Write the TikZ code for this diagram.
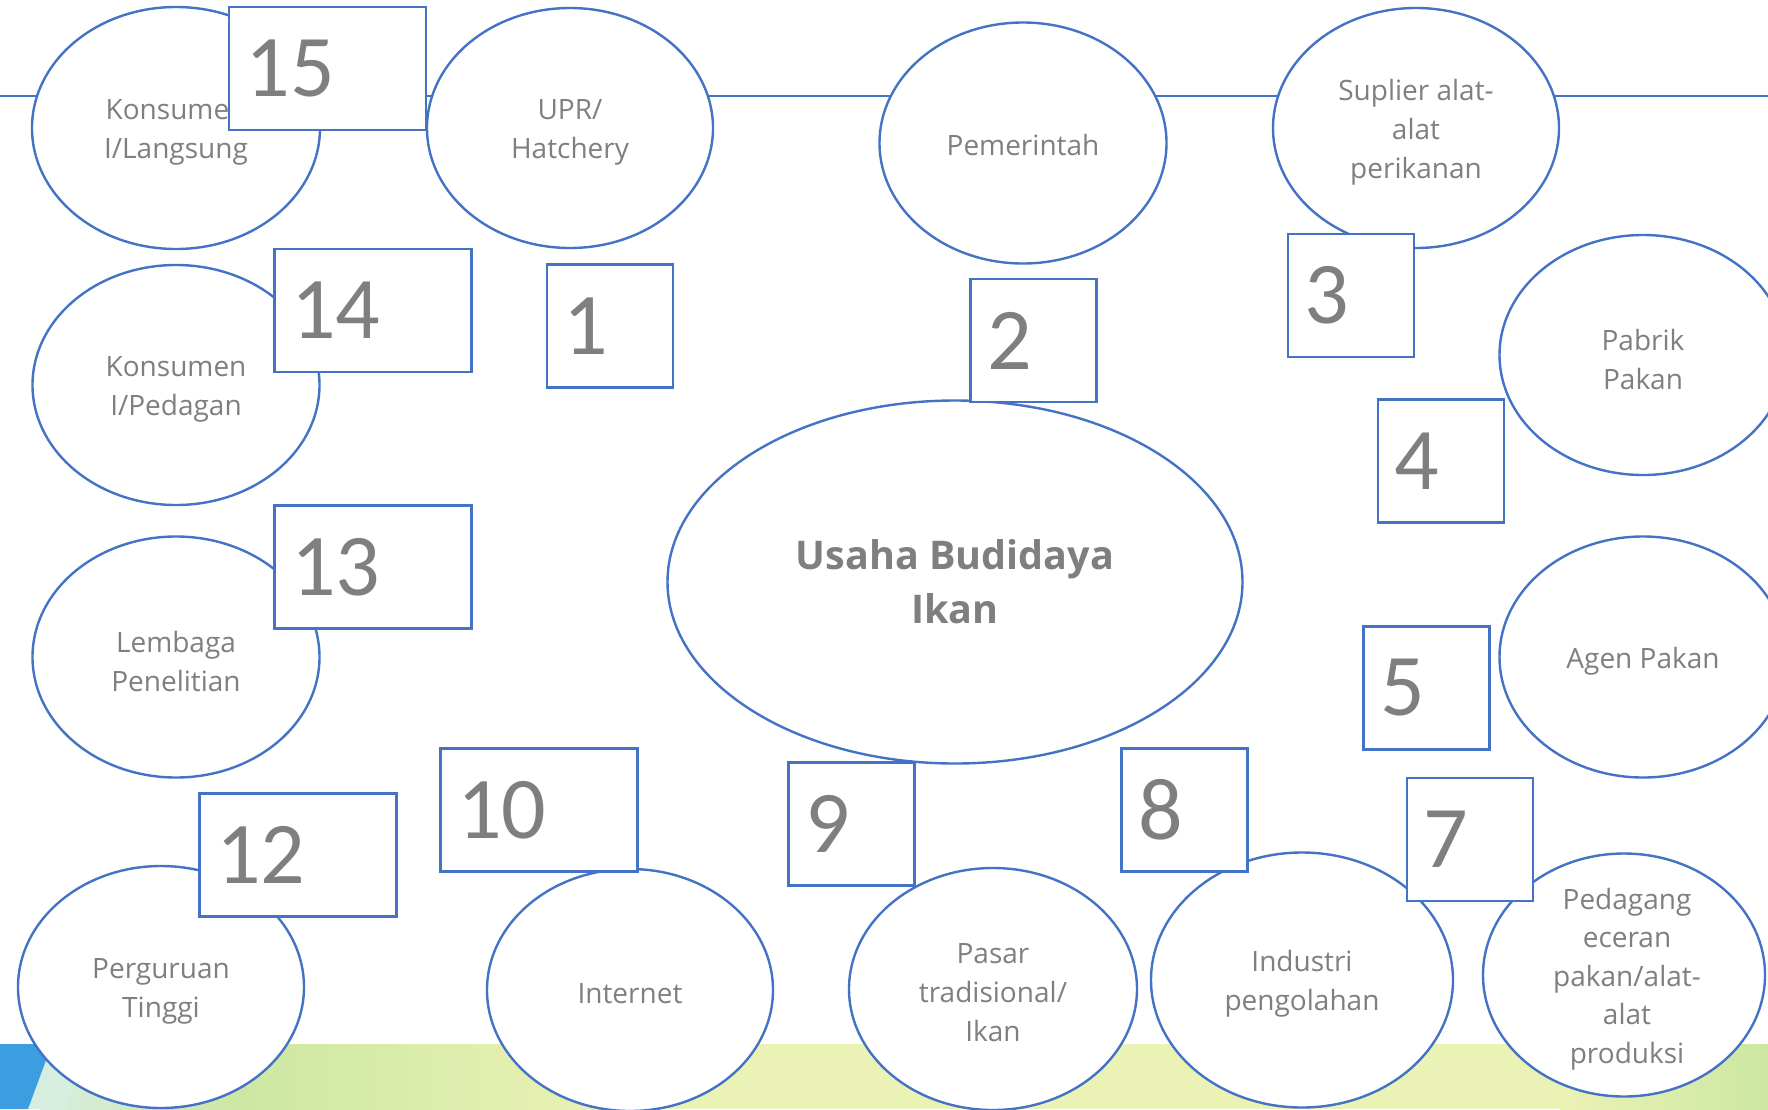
\documentclass[tikz,border=0pt]{standalone}
\usepackage{fontspec}
\setmainfont{Open Sans}
\newfontfamily\numfont{Carlito}
\usetikzlibrary{shapes.geometric}
\definecolor{eblue}{HTML}{4472C4}
\definecolor{tgray}{HTML}{7F7F7F}
\definecolor{bandY}{HTML}{EBF2B5}
\definecolor{bandG}{HTML}{CDE7A3}
\definecolor{bandM}{HTML}{D6EEE0}
\definecolor{bandB}{HTML}{3C9DE0}
\begin{document}
\begin{tikzpicture}[x=1pt,y=-1pt,
  ell/.style={ellipse, draw=eblue, line width=2.4pt, fill=white, inner sep=0pt},
  lbl/.style={text=tgray, font=\fontsize{28}{39}\selectfont, align=center, inner sep=0pt, yshift=-4pt},
  bigbox/.style={rectangle, draw=eblue, line width=2.4pt, fill=white, inner xsep=16.5pt, inner ysep=0pt,
     minimum width=197pt, minimum height=123pt, text width=164pt, align=left,
     font=\numfont\fontsize{88}{88}\selectfont, text=tgray},
  smallbox/.style={bigbox, minimum width=126pt, text width=93pt},
  num/.style={yshift=-2pt}]
\useasboundingbox (0,0) rectangle (1768,1109);
\fill[white] (0,0) rectangle (1768,1109);
% bottom band
\fill[bandY] (0,1044) rectangle (1768,1109);
\shade[left color=bandM, right color=bandG] (40,1044) rectangle (240,1109);
\shade[left color=bandG, right color=bandY] (240,1044) rectangle (620,1109);
\shade[left color=bandY, right color=bandG] (1560,1044) rectangle (1768,1109);
\fill[bandM] (52,1044) -- (90,1044) -- (66,1109) -- (28,1109) -- cycle;
\fill[bandB] (0,1044) -- (52,1044) -- (28,1109) -- (0,1109) -- cycle;
% horizontal line
\coordinate (hl0) at (0,96);
\coordinate (hl1) at (1768,96);
\draw[eblue, line width=2.4pt] (hl0) -- (hl1);
% ellipses
\node[ell, minimum width=288pt, minimum height=242pt] (kl) at (176,128) {};
\node[ell, minimum width=286pt, minimum height=240pt] (upr) at (570,128) {};
\node[ell, minimum width=287pt, minimum height=241pt] (pem) at (1023,143) {};
\node[ell, minimum width=286pt, minimum height=240pt] (sup) at (1416,128) {};
\node[ell, minimum width=287pt, minimum height=240pt] (pab) at (1643,355) {};
\node[ell, minimum width=287pt, minimum height=240pt] (kp) at (176,385) {};
\node[ell, minimum width=287pt, minimum height=241pt] (lem) at (176,657) {};
\node[ell, minimum width=287pt, minimum height=241pt] (agen) at (1643,657) {};
\node[ell, minimum width=575pt, minimum height=363pt] (usaha) at (955,582) {};
\node[ell, minimum width=286pt, minimum height=242pt] (pt) at (161,987) {};
\node[ell, minimum width=286pt, minimum height=242pt] (inet) at (630,990) {};
\node[ell, minimum width=288pt, minimum height=242pt] (pasar) at (993,989) {};
\node[ell, minimum width=302pt, minimum height=255pt] (ind) at (1302,980) {};
\node[ell, minimum width=282pt, minimum height=243pt] (ped) at (1624,975) {};
% labels
\node[lbl] (t-kl) at (kl.center) {Konsumen\\I/Langsung};
\node[lbl] (t-upr) at (upr.center) {UPR/\\Hatchery};
\node[lbl, yshift=2pt] (t-pem) at (pem.center) {Pemerintah};
\node[lbl] (t-sup) at (sup.center) {Suplier alat-\\alat\\perikanan};
\node[lbl] (t-pab) at (pab.center) {Pabrik\\Pakan};
\node[lbl] (t-kp) at (kp.center) {Konsumen\\I/Pedagan};
\node[lbl] (t-lem) at (lem.center) {Lembaga\\Penelitian};
\node[lbl] (t-agen) at (agen.center) {Agen Pakan};
\node[lbl, yshift=4pt, font=\bfseries\fontsize{39.5}{54}\selectfont] (t-usaha) at (usaha.center) {Usaha Budidaya\\Ikan};
\node[lbl] (t-pt) at (pt.center) {Perguruan\\Tinggi};
\node[lbl] (t-inet) at (inet.center) {Internet};
\node[lbl] (t-pasar) at (pasar.center) {Pasar\\tradisional/\\Ikan};
\node[lbl] (t-ind) at (ind.center) {Industri\\pengolahan};
\node[lbl, font=\fontsize{28}{38.6}\selectfont, xshift=3pt] (t-ped) at (ped.center) {Pedagang\\eceran\\pakan/alat-\\alat\\produksi};
% number boxes
\node[bigbox] (b15) at (327.5,68.5) {\raisebox{-2pt}{15}};
\node[bigbox] (b14) at (373,310.5) {\raisebox{-2pt}{14}};
\node[bigbox] (b13) at (373,567) {\raisebox{-2pt}{13}};
\node[bigbox] (b12) at (298,855) {\raisebox{-2pt}{12}};
\node[bigbox] (b10) at (539,810) {\raisebox{-2pt}{10}};
\node[smallbox] (b1) at (610,326) {\raisebox{-2pt}{1}};
\node[smallbox] (b2) at (1033.5,340.5) {\raisebox{-2pt}{2}};
\node[smallbox] (b3) at (1351,295.5) {\raisebox{-2pt}{3}};
\node[smallbox] (b4) at (1441,461) {\raisebox{-2pt}{4}};
\node[smallbox] (b5) at (1426.5,688) {\raisebox{-2pt}{5}};
\node[smallbox] (b7) at (1470,839.5) {\raisebox{-2pt}{7}};
\node[smallbox] (b8) at (1184.5,810) {\raisebox{-2pt}{8}};
\node[smallbox] (b9) at (851.5,824) {\raisebox{-2pt}{9}};
\end{tikzpicture}
\end{document}
